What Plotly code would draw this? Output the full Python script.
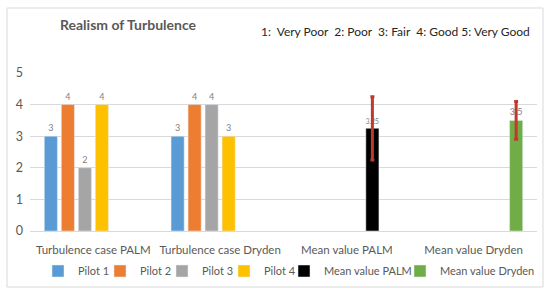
import plotly.graph_objects as go

categories = ["Turbulence case PALM", "Turbulence case Dryden", "Mean value PALM", "Mean value Dryden"]
pilot1 = [3, 3, None, None]
pilot2 = [4, 4, None, None]
pilot3 = [2, 4, None, None]
pilot4 = [4, 3, None, None]
mean_palm = [None, None, 3.25, None]
mean_dryden = [None, None, None, 3.5]
err_palm = [0, 0, 1.0, 0]
err_dryden = [0, 0, 0, 0.6]

names = ["Pilot 1", "Pilot 2", "Pilot 3", "Pilot 4", "Mean value PALM", "Mean value Dryden"]
colors = ["#5B9BD5", "#ED7D31", "#A5A5A5", "#FFC000", "#000000", "#70AD47"]
series = [pilot1, pilot2, pilot3, pilot4, mean_palm, mean_dryden]
errors = [None, None, None, None, err_palm, err_dryden]
legend_ids = ["legend", "legend2", "legend3", "legend4", "legend5", "legend6"]
# left pixel of each legend symbol
legend_px = [52, 114, 176, 238, 298, 414]

FONT = "Lato"
fig = go.Figure()
for name, col, vals, err, lg in zip(names, colors, series, errors, legend_ids):
    kw = {}
    if err is not None:
        kw["error_y"] = dict(type="data", array=err, visible=True, color="#C0392B",
                             thickness=3, width=2)
    fig.add_trace(go.Bar(
        x=categories, y=vals, name=name, marker_color=col, legend=lg,
        text=[("" if v is None else f"{v:g}") for v in vals],
        textposition="outside", textfont=dict(size=9, color="#7F7F7F", family=FONT),
        cliponaxis=False, **kw))

L, R, T, B = 30, 13, 73, 64
PW, PH = 550 - L - R, 295 - T - B

leg_layout = {}
for lg, px in zip(legend_ids, legend_px):
    leg_layout[lg] = dict(orientation="h", yref="container", y=1 - 271 / 295, yanchor="middle",
                          xref="paper", x=(px - 14 - L) / PW, xanchor="left",
                          font=dict(size=11, color="#595959", family=FONT),
                          itemwidth=30, bgcolor="rgba(0,0,0,0)")

fig.update_layout(
    width=550, height=295, barmode="group", bargap=0.195, bargroupgap=0.23,
    margin=dict(l=L, r=R, t=T, b=B, autoexpand=False),
    paper_bgcolor="white", plot_bgcolor="white",
    font=dict(family=FONT, color="#595959", size=12),
    showlegend=True,
    **leg_layout,
)
fig.update_yaxes(range=[0, 5], dtick=1, showgrid=True, gridcolor="#D9D9D9",
                 zeroline=False, showline=False, tickfont=dict(size=12.5, color="#595959"),
                 ticks="", ticklabelstandoff=6)
fig.update_xaxes(showgrid=False, showline=True, linecolor="#D9D9D9",
                 tickfont=dict(size=11.5, color="#595959"), ticks="", ticklabelstandoff=8)

fig.add_annotation(text="<b>Realism of Turbulence</b>", xref="paper", yref="paper",
                   x=(128 - L) / PW, y=1 + (T - 25) / PH, xanchor="center", yanchor="middle",
                   showarrow=False, font=dict(size=14, color="#595959", family=FONT))
fig.add_annotation(text="1:  Very Poor  2: Poor  3: Fair  4: Good 5: Very Good", xref="paper", yref="paper",
                   x=(395 - L) / PW, y=1 + (T - 32) / PH, xanchor="center", yanchor="middle",
                   showarrow=False, font=dict(size=12, color="#262626", family=FONT))
fig.add_shape(type="rect", xref="paper", yref="paper",
              x0=(7 - L) / PW, x1=(543 - L) / PW, y0=-(287 - (T + PH)) / PH, y1=1 + (T - 8) / PH,
              line=dict(color="#D9D9D9", width=1), fillcolor="rgba(0,0,0,0)", layer="below")

fig.write_html("out.html", config={"displayModeBar": False},
               post_script="document.body.style.margin='0px';")
